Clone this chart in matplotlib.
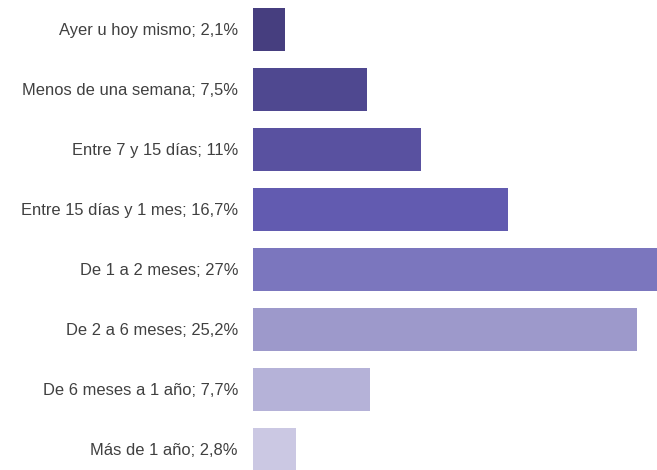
import matplotlib
matplotlib.use('Agg')
import matplotlib.pyplot as plt

plt.rcParams['font.family'] = ['Liberation Sans', 'DejaVu Sans']

# Data
categories = ['Ayer u hoy mismo', 'Menos de una semana', 'Entre 7 y 15 días',
              'Entre 15 días y 1 mes', 'De 1 a 2 meses', 'De 2 a 6 meses',
              'De 6 meses a 1 año', 'Más de 1 año']
values = [2.1, 7.5, 11, 16.7, 27, 25.2, 7.7, 2.8]
value_labels = ['2,1%', '7,5%', '11%', '16,7%', '27%', '25,2%', '7,7%', '2,8%']
colors = ['#463e7f', '#4f4890', '#5951a0', '#625bb0', '#7b76be',
          '#9d99cb', '#b5b2d8', '#cbc8e3']

W, H = 657, 470
fig = plt.figure(figsize=(W / 100, H / 100), dpi=100)
left = 253
ax = fig.add_axes([left / W, 0, 1 - left / W, 1])

rows = list(range(len(categories)))
ax.barh(rows, values, height=0.733, color=colors)

ax.set_xlim(0, (W - left) / 15.25)
ax.set_ylim((H - 29.5) / 60, -29.5 / 60)
ax.axis('off')

for i, (cat, lab) in enumerate(zip(categories, value_labels)):
    ax.annotate(f'{cat}; {lab}', xy=(0, i), xytext=(-15, -1),
                textcoords='offset pixels', ha='right', va='center',
                fontsize=11.9, color='#404040', annotation_clip=False)

fig.savefig('out.png', dpi=100)
